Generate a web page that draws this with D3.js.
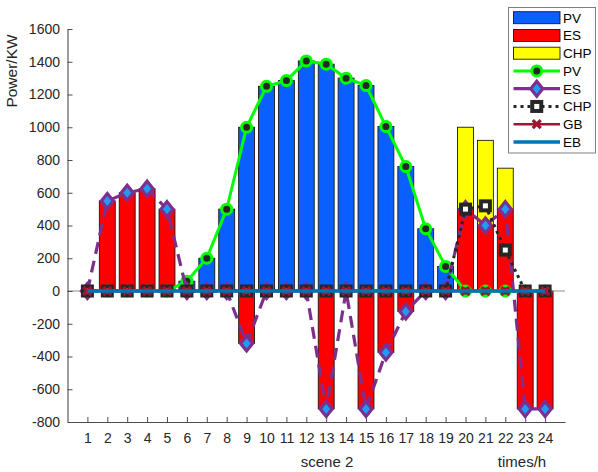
<!DOCTYPE html>
<html>
<head>
<meta charset="utf-8">
<script src="https://cdn.jsdelivr.net/npm/d3@7"></script>
<style>
  html, body { margin: 0; padding: 0; background: #fff; }
  svg { display: block; font-family: "Liberation Sans", Arial, sans-serif; }
</style>
</head>
<body>
<svg id="chart" width="598" height="472"></svg>
<script>
// ---- data ----
const hours = [1,2,3,4,5,6,7,8,9,10,11,12,13,14,15,16,17,18,19,20,21,22,23,24];
const pvValues  = [0,0,0,0,0,60,200,500,1000,1250,1285,1405,1385,1300,1255,1005,760,380,150,0,0,0,0,0];
const esValues  = [0,550,600,625,500,0,0,0,-320,0,0,0,-720,0,-720,-375,-125,0,0,500,400,500,-720,-720];
const chpValues = [0,0,0,0,0,0,0,0,0,0,0,0,0,0,0,0,0,0,0,500,520,250,0,0];
const gbValues  = [0,0,0,0,0,0,0,0,0,0,0,0,0,0,0,0,0,0,0,0,0,0,0,0];
const ebValues  = [0,0,0,0,0,0,0,0,0,0,0,0,0,0,0,0,0,0,0,0,0,0,0,0];
const yTicks = [-800,-600,-400,-200,0,200,400,600,800,1000,1200,1400,1600];
const barSeries = ["PV","ES","CHP"];
const lineSeries = ["PV","ES","CHP","GB","EB"];

// ---- setup ----
const svg = d3.select("#chart");
const x = d3.scaleLinear().domain([0, 25]).range([67.5, 565]);
const y = d3.scaleLinear().domain([-800, 1600]).range([422, 29]);
const step = x(1) - x(0);
const barW = step * 0.8;
const textColor = "#262626";
const axisColor = "#4d4d4d";

const barColors = { PV: "#0a60ff", ES: "#ff0000", CHP: "#ffff00" };

// ---- stacked bars ----
const rows = hours.map((h, i) => ({ hour: h, PV: pvValues[i], ES: esValues[i], CHP: chpValues[i] }));
const stack = d3.stack().keys(barSeries).offset(d3.stackOffsetDiverging);
const layers = stack(rows);
const barG = svg.append("g");
layers.forEach(layer => {
  barG.selectAll(null).data(layer.filter(d => d[1] !== d[0])).enter().append("rect")
    .attr("x", d => x(d.data.hour) - barW / 2)
    .attr("width", barW)
    .attr("y", d => y(Math.max(d[0], d[1])))
    .attr("height", d => Math.abs(y(d[0]) - y(d[1])))
    .attr("fill", barColors[layer.key])
    .attr("stroke", "#1a1a1a")
    .attr("stroke-width", 0.9);
});

// ---- baseline ----
svg.append("line")
  .attr("x1", x(0)).attr("x2", x(25))
  .attr("y1", y(0)).attr("y2", y(0))
  .attr("stroke", "#8c8c8c").attr("stroke-width", 1);

// ---- axes ----
const yAxis = d3.axisLeft(y).tickValues(yTicks).tickFormat(d => String(d))
  .tickSizeInner(-5).tickSizeOuter(0).tickPadding(7.5);
const yg = svg.append("g").attr("transform", `translate(${x(0)},0)`).call(yAxis);
const xAxis = d3.axisBottom(x).tickValues(hours).tickFormat(d => String(d))
  .tickSizeInner(-5).tickSizeOuter(0).tickPadding(11);
const xg = svg.append("g").attr("transform", `translate(0,${y(-800)})`).call(xAxis);
[yg, xg].forEach(g => {
  g.select(".domain").attr("stroke", axisColor).attr("stroke-width", 1.1);
  g.selectAll(".tick line").attr("stroke", axisColor).attr("stroke-width", 1);
  g.selectAll(".tick text").attr("fill", textColor).attr("font-size", 14)
    .attr("font-family", "Liberation Sans, Arial, sans-serif");
});

// ---- markers ----
function drawMarker(g, type, cx, cy) {
  if (type === "PV") {
    g.append("circle").attr("cx", cx).attr("cy", cy).attr("r", 5)
      .attr("fill", "#262626").attr("stroke", "#00ff00").attr("stroke-width", 3);
  } else if (type === "ES") {
    g.append("path").attr("transform", `translate(${cx},${cy})`)
      .attr("d", "M0,-7.5L6,0L0,7.5L-6,0Z")
      .attr("fill", "#1e9cf5").attr("stroke", "#7e2f8e").attr("stroke-width", 3.2)
      .attr("stroke-linejoin", "miter");
  } else if (type === "CHP") {
    g.append("rect").attr("x", cx - 4.5).attr("y", cy - 4.5).attr("width", 9).attr("height", 9)
      .attr("fill", "#ffffff").attr("stroke", "#262626").attr("stroke-width", 4);
  } else if (type === "GB") {
    g.append("path").attr("transform", `translate(${cx},${cy})`)
      .attr("d", "M-4,-4L4,4M-4,4L4,-4")
      .attr("fill", "none").attr("stroke", "#a2142f").attr("stroke-width", 3.2);
  }
}

const lineStyles = {
  PV:  { values: pvValues,  color: "#00ff00", width: 3,   dash: null },
  ES:  { values: esValues,  color: "#7e2f8e", width: 3.2, dash: "12,7" },
  CHP: { values: chpValues, color: "#262626", width: 3,   dash: "3,4" },
  GB:  { values: gbValues,  color: "#a2142f", width: 2.5, dash: null },
  EB:  { values: ebValues,  color: "#0072bd", width: 3.5, dash: null }
};

const lineGen = d3.line().x(d => x(d[0])).y(d => y(d[1]));
lineSeries.forEach(key => {
  const s = lineStyles[key];
  const pts = hours.map((h, i) => [h, s.values[i]]);
  const g = svg.append("g");
  g.append("path").attr("d", lineGen(pts))
    .attr("fill", "none").attr("stroke", s.color).attr("stroke-width", s.width)
    .attr("stroke-dasharray", s.dash);
  pts.forEach(p => drawMarker(g, key, x(p[0]), y(p[1])));
});

// ---- labels ----
svg.append("text").attr("transform", "translate(17,71) rotate(-90)")
  .attr("text-anchor", "middle").attr("font-size", 15.5).attr("fill", textColor)
  .text("Power/KW");
svg.append("text").attr("x", 327).attr("y", 467).attr("text-anchor", "middle")
  .attr("font-size", 15).attr("fill", textColor).text("scene 2");
svg.append("text").attr("x", 522).attr("y", 467).attr("text-anchor", "middle")
  .attr("font-size", 15).attr("fill", textColor).text("times/h");

// ---- legend ----
const legend = svg.append("g");
legend.append("rect").attr("x", 508.5).attr("y", 7.5).attr("width", 87).attr("height", 145.5)
  .attr("fill", "#fff").attr("stroke", "#808080").attr("stroke-width", 1);
const legendItems = [
  { kind: "bar", key: "PV" }, { kind: "bar", key: "ES" }, { kind: "bar", key: "CHP" },
  { kind: "line", key: "PV" }, { kind: "line", key: "ES" }, { kind: "line", key: "CHP" },
  { kind: "line", key: "GB" }, { kind: "line", key: "EB" }
];
const lx0 = 513.5, lx1 = 560;
legendItems.forEach((it, i) => {
  const cy = 17.7 + i * 17.75;
  if (it.kind === "bar") {
    legend.append("rect").attr("x", lx0).attr("y", cy - 6).attr("width", lx1 - lx0).attr("height", 12)
      .attr("fill", barColors[it.key]).attr("stroke", "#1a1a1a").attr("stroke-width", 0.9);
  } else {
    const s = lineStyles[it.key];
    legend.append("line").attr("x1", lx0).attr("x2", lx1).attr("y1", cy).attr("y2", cy)
      .attr("stroke", s.color).attr("stroke-width", s.width)
      .attr("stroke-dasharray", it.key === "CHP" ? s.dash : null);
    drawMarker(legend, it.key, (lx0 + lx1) / 2, cy);
  }
  legend.append("text").attr("x", 563).attr("y", cy).attr("dy", "0.36em")
    .attr("font-size", 13.5).attr("fill", "#000").text(it.key);
});
</script>
</body>
</html>
